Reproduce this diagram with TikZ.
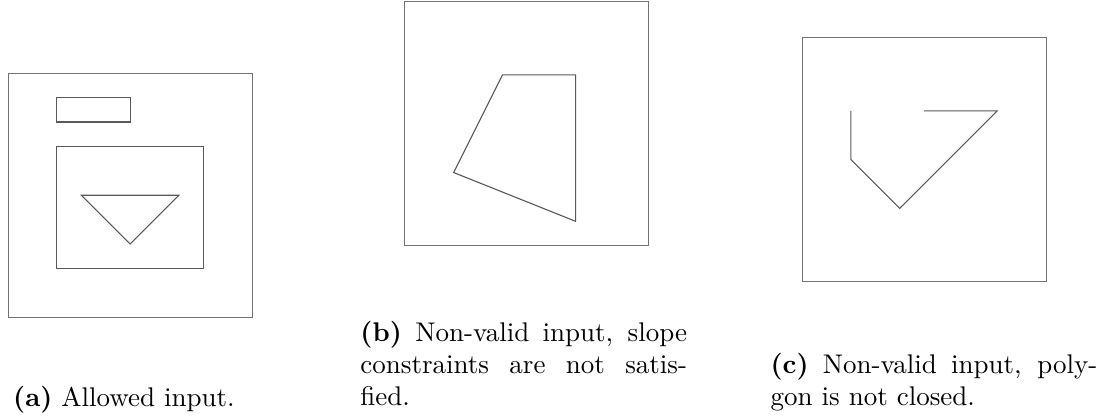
\documentclass[tikz,border=0pt]{standalone}
\usepackage{tikz}
\usetikzlibrary{positioning}

\begin{document}
\begin{tikzpicture}[
    x=9.04pt, y=9.04pt,
    frame/.style={draw=black!55, line width=0.4pt},
    outline/.style={draw=black!65, line width=0.4pt},
    caption/.style={inner sep=0pt, text width=121pt, align=justify, anchor=base west}
]
\useasboundingbox (0,0) rectangle (45.16,17.17);

% (a) allowed input
\begin{scope}[shift={(0.33,14.17)}, yscale=-1]
\draw[frame] (0,0) rectangle (10,10);
\draw[outline] (2,1) rectangle (5,2);
\draw[outline] (2,3) rectangle (8,8);
\draw[outline] (3,5) -- (7,5) -- (5,7) -- cycle;
\end{scope}

% (b) slope constraints violated
\begin{scope}[shift={(16.59,17.10)}, yscale=-1]
\draw[frame] (0,0) rectangle (10,10);
\draw[outline] (4,3) -- (7,3) -- (7,9) -- (2,7) -- cycle;
\end{scope}

% (c) open polygon
\begin{scope}[shift={(32.87,15.63)}, yscale=-1]
\draw[frame] (0,0) rectangle (10,10);
\draw[outline] (5,3) -- (8,3) -- (4,7) -- (2,5) -- (2,3);
\end{scope}

\node[caption, align=center, anchor=base] (capa) at (5.08,0.53) {\textbf{(a)} Allowed input.};
\node[caption] (capb) at (14.75,3.19) {\textbf{(b)} Non-valid input, slope constraints are not satis-\linebreak fied.};
\node[caption] (capc) at (31.56,1.86) {\textbf{(c)} Non-valid input, polygon is not closed.};

\end{tikzpicture}
\end{document}
